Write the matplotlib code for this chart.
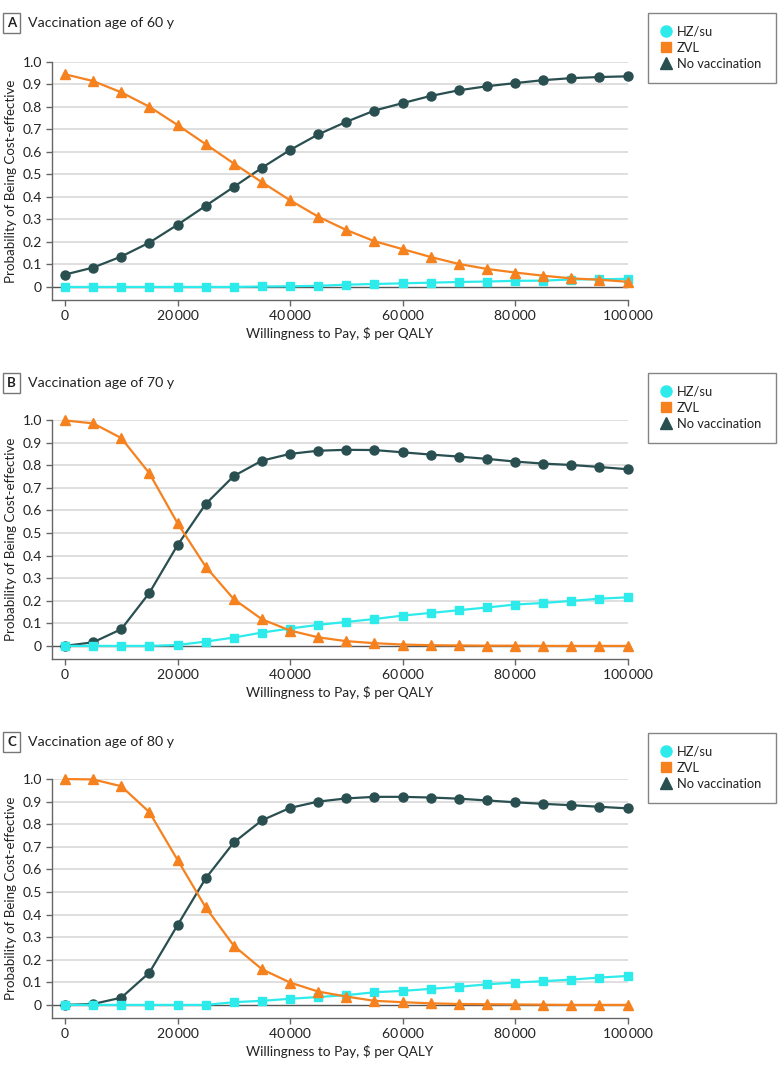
import matplotlib
matplotlib.use("Agg")
import matplotlib.pyplot as plt
from matplotlib.lines import Line2D
from matplotlib.patches import Rectangle

plt.rcParams['font.family'] = ['Lato', 'DejaVu Sans']

wtp = [0, 5000, 10000, 15000, 20000, 25000, 30000, 35000, 40000, 45000, 50000,
       55000, 60000, 65000, 70000, 75000, 80000, 85000, 90000, 95000, 100000]

# Panel A: vaccination age 60 y
a_dark = [0.055, 0.086, 0.135, 0.197, 0.276, 0.360, 0.444, 0.529, 0.608, 0.677, 0.733,
          0.783, 0.816, 0.848, 0.873, 0.891, 0.905, 0.918, 0.927, 0.932, 0.935]
a_orange = [0.944, 0.914, 0.864, 0.800, 0.719, 0.634, 0.548, 0.465, 0.385, 0.312, 0.253,
            0.203, 0.168, 0.133, 0.102, 0.080, 0.064, 0.050, 0.038, 0.032, 0.023]
a_cyan = [0.0, 0.0, 0.0, 0.0, 0.0, 0.0, 0.0, 0.002, 0.003, 0.005, 0.010,
          0.013, 0.016, 0.019, 0.022, 0.024, 0.027, 0.028, 0.033, 0.034, 0.036]

# Panel B: vaccination age 70 y
b_dark = [0.0, 0.016, 0.074, 0.235, 0.446, 0.628, 0.752, 0.820, 0.850, 0.864, 0.868,
          0.867, 0.857, 0.847, 0.838, 0.828, 0.816, 0.807, 0.801, 0.792, 0.782]
b_orange = [0.998, 0.985, 0.920, 0.764, 0.543, 0.351, 0.207, 0.118, 0.068, 0.038, 0.021,
            0.012, 0.006, 0.003, 0.002, 0.001, 0.001, 0.0, 0.0, 0.0, 0.0]
b_cyan = [0.0, 0.0, 0.0, 0.0, 0.004, 0.019, 0.037, 0.059, 0.077, 0.093, 0.106,
          0.119, 0.134, 0.146, 0.158, 0.170, 0.183, 0.190, 0.199, 0.209, 0.215]

# Panel C: vaccination age 80 y
c_dark = [0.0, 0.004, 0.032, 0.143, 0.353, 0.560, 0.719, 0.817, 0.872, 0.900, 0.914,
          0.921, 0.921, 0.918, 0.913, 0.905, 0.897, 0.890, 0.884, 0.877, 0.870]
c_orange = [1.0, 0.998, 0.968, 0.853, 0.642, 0.432, 0.262, 0.158, 0.099, 0.059, 0.037,
            0.018, 0.012, 0.007, 0.004, 0.003, 0.002, 0.001, 0.0, 0.0, 0.0]
c_cyan = [0.0, 0.0, 0.0, 0.0, 0.0, 0.0, 0.012, 0.018, 0.027, 0.035, 0.043,
          0.056, 0.062, 0.071, 0.080, 0.091, 0.099, 0.105, 0.112, 0.121, 0.128]

panels = [("A", "Vaccination age of 60 y", a_dark, a_orange, a_cyan),
          ("B", "Vaccination age of 70 y", b_dark, b_orange, b_cyan),
          ("C", "Vaccination age of 80 y", c_dark, c_orange, c_cyan)]

legend_labels = ["HZ/su", "ZVL", "No vaccination"]
yticks = [0, 0.1, 0.2, 0.3, 0.4, 0.5, 0.6, 0.7, 0.8, 0.9, 1.0]
ytick_labels = ["0", "0.1", "0.2", "0.3", "0.4", "0.5", "0.6", "0.7", "0.8", "0.9", "1.0"]
xticks = [0, 20000, 40000, 60000, 80000, 100000]
xtick_labels = ["0", "20\u2009000", "40\u2009000", "60\u2009000", "80\u2009000", "100\u2009000"]

DARK = "#2A4F50"
ORANGE = "#F5821F"
CYAN = "#2EEBEB"
TXT = "#222222"
W, H = 783, 1071

fig = plt.figure(figsize=(W / 100, H / 100), dpi=100)

# pixel geometry per panel: (axes top, axes bottom, title y, legend top)
geom = [(61.7, 300.0, 23, 13), (420.0, 659.0, 383, 373), (779.0, 1018.0, 742, 733)]
left_px, right_px = 51.7, 627.5

for (letter, title, dark, orange, cyan), (top, bot, ty, ly) in zip(panels, geom):
    ax = fig.add_axes([left_px / W, 1 - bot / H, (right_px - left_px) / W, (bot - top) / H])
    ax.set_xlim(-2370, 100000)
    ax.set_ylim(-0.058, 1.0)
    for y in yticks[1:]:
        ax.axhline(y, color="#DCDCDC", lw=1.3, zorder=0)
    ax.axhline(0, color="#555555", lw=1.0, zorder=1)
    ax.plot(wtp, dark, color=DARK, lw=1.6, marker="o", ms=6.5, clip_on=False, zorder=3)
    ax.plot(wtp, cyan, color=CYAN, lw=1.6, marker="s", ms=6.0, clip_on=False, zorder=4)
    ax.plot(wtp, orange, color=ORANGE, lw=1.6, marker="^", ms=7.0, clip_on=False, zorder=5)

    for s in ["top", "right"]:
        ax.spines[s].set_visible(False)
    for s in ["left", "bottom"]:
        ax.spines[s].set_color("#666666")
        ax.spines[s].set_linewidth(1.0)
    ax.set_yticks(yticks)
    ax.set_yticklabels(ytick_labels)
    ax.set_xticks(xticks)
    ax.set_xticklabels(xtick_labels)
    ax.tick_params(axis="both", colors="#666666", labelcolor=TXT, labelsize=10,
                   length=4, width=1.0, direction="out", pad=3)
    ax.set_xlabel("Willingness to Pay, $ per QALY", fontsize=9.8, color=TXT, labelpad=4)
    ax.set_ylabel("Probability of Being Cost-effective", fontsize=9.6, color=TXT)
    ax.yaxis.set_label_coords(-0.061, 0.5)

    # panel letter box
    fig.patches.append(Rectangle((3 / W, 1 - (ty + 10) / H), 17 / W, 20 / H,
                                 transform=fig.transFigure, fill=False,
                                 ec="#777777", lw=1.0))
    fig.text(11.5 / W, 1 - ty / H, letter, fontsize=9.5, fontweight="bold", color=TXT,
             ha="center", va="center")
    fig.text(28 / W, 1 - ty / H, title, fontsize=10.2, color=TXT, ha="left", va="center")

    handles = [Line2D([], [], ls="none", marker="o", ms=8, color=CYAN),
               Line2D([], [], ls="none", marker="s", ms=7.5, color=ORANGE),
               Line2D([], [], ls="none", marker="^", ms=8.5, color=DARK)]
    leg = fig.legend(handles, legend_labels, loc="upper left",
                     bbox_to_anchor=(648 / W, 1 - (ly + 69) / H, 128 / W, 69 / H),
                     mode="expand", fontsize=9.3,
                     frameon=True, fancybox=False, edgecolor="#666666",
                     handlelength=0.8, handletextpad=0.45, labelspacing=0.3,
                     borderpad=1.0, borderaxespad=0.0)
    leg.get_frame().set_linewidth(1.0)
    for t in leg.get_texts():
        t.set_color(TXT)

fig.savefig("out.png", dpi=100)
